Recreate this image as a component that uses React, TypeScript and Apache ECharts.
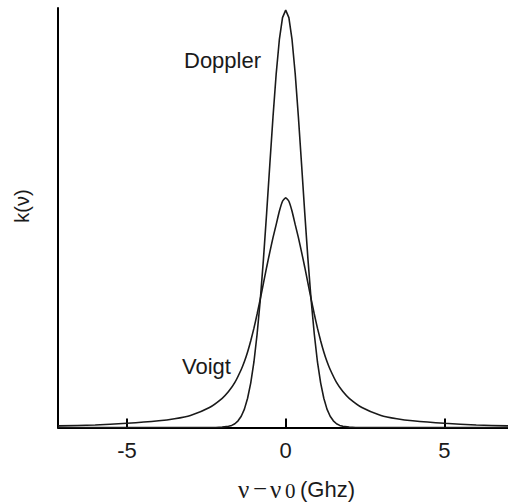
import React, { useEffect, useRef } from "react";
import * as echarts from "echarts";

// Frequency offsets (GHz) and line-shape values (Doppler peak = 1)
const dopplerX = [-7.17, -2.2, -2.0, -1.8, -1.7, -1.6, -1.5, -1.4, -1.3, -1.2, -1.1, -1.0, -0.9, -0.8, -0.7, -0.6, -0.5, -0.4, -0.3, -0.2, -0.1, 0, 0.1, 0.2, 0.3, 0.4, 0.5, 0.6, 0.7, 0.8, 0.9, 1.0, 1.1, 1.2, 1.3, 1.4, 1.5, 1.6, 1.7, 1.8, 2.0, 2.2, 7.0];
const dopplerY = [0, 0, 0.001, 0.003, 0.005, 0.009, 0.016, 0.027, 0.044, 0.07, 0.107, 0.157, 0.224, 0.306, 0.404, 0.514, 0.63, 0.744, 0.847, 0.929, 0.982, 1.0, 0.982, 0.929, 0.847, 0.744, 0.63, 0.514, 0.404, 0.306, 0.224, 0.157, 0.107, 0.07, 0.044, 0.027, 0.016, 0.009, 0.005, 0.003, 0.001, 0, 0];

const voigtX = [-7.17, -6.0, -5.0, -4.0, -3.5, -3.0, -2.4, -2.0, -1.8, -1.6, -1.4, -1.3, -1.2, -1.1, -1.0, -0.9, -0.8, -0.7, -0.6, -0.5, -0.4, -0.3, -0.2, -0.1, 0, 0.1, 0.2, 0.3, 0.4, 0.5, 0.6, 0.7, 0.8, 0.9, 1.0, 1.1, 1.2, 1.3, 1.4, 1.6, 1.8, 2.0, 2.4, 3.0, 3.5, 4.0, 5.0, 6.0, 7.0];
const voigtY = [0.004, 0.006, 0.01, 0.016, 0.021, 0.029, 0.048, 0.07, 0.086, 0.108, 0.139, 0.158, 0.181, 0.208, 0.238, 0.272, 0.308, 0.346, 0.384, 0.42, 0.455, 0.486, 0.518, 0.542, 0.55, 0.542, 0.518, 0.486, 0.455, 0.42, 0.384, 0.346, 0.308, 0.272, 0.238, 0.208, 0.181, 0.158, 0.139, 0.108, 0.086, 0.07, 0.048, 0.029, 0.021, 0.016, 0.01, 0.006, 0.004];

const tickValues = [-5, 0, 5];
const curveLabels = ["Doppler", "Voigt"];
const yAxisTitle = "k(ν)";
const xAxisTitleParts = ["ν", "−", "ν", "0", "(Ghz)"];

const SANS = "'Liberation Sans', Arial, sans-serif";
const SERIF = "'Liberation Serif', 'Times New Roman', serif";
const INK = "#1a1a1a";

export default function App() {
  const ref = useRef<HTMLDivElement>(null);
  useEffect(() => {
    if (!ref.current) return;
    const chart = echarts.init(ref.current, undefined, { renderer: "svg" });
    const pairs = (xs: number[], ys: number[]) => xs.map((x, i) => [x, ys[i]]);
    chart.setOption({
      animation: false,
      backgroundColor: "#ffffff",
      grid: { left: 58, right: 0, top: 8, bottom: 76.5 },
      xAxis: {
        type: "value",
        min: -7.17,
        max: 7.0,
        axisLine: { show: true, onZero: false, lineStyle: { color: "#000", width: 2 } },
        axisTick: { show: true, inside: true, length: 9, customValues: tickValues, lineStyle: { color: "#000", width: 2 } },
        axisLabel: { show: true, customValues: tickValues, fontSize: 22, color: INK, fontFamily: SANS, margin: 12 },
        splitLine: { show: false },
      },
      yAxis: {
        type: "value",
        min: 0,
        max: 1.005,
        axisLine: { show: true, onZero: false, lineStyle: { color: "#000", width: 2 } },
        axisTick: { show: false },
        axisLabel: { show: false },
        splitLine: { show: false },
      },
      series: [
        {
          name: curveLabels[0],
          type: "line",
          data: pairs(dopplerX, dopplerY),
          showSymbol: false,
          smooth: false,
          lineStyle: { color: INK, width: 1.6 },
        },
        {
          name: curveLabels[1],
          type: "line",
          data: pairs(voigtX, voigtY),
          showSymbol: false,
          smooth: 0.2,
          lineStyle: { color: INK, width: 1.6 },
        },
      ],
      graphic: [
        { type: "text", x: 184, y: 60.5, style: { text: curveLabels[0], fontSize: 22, fontFamily: SANS, fill: INK, align: "left", verticalAlign: "middle" } },
        { type: "text", x: 182, y: 366, style: { text: curveLabels[1], fontSize: 22, fontFamily: SANS, fill: INK, align: "left", verticalAlign: "middle" } },
        { type: "text", x: 21.5, y: 206, rotation: Math.PI / 2, style: { text: yAxisTitle, fontSize: 20, fontFamily: SANS, fill: INK, align: "center", verticalAlign: "middle" } },
        { type: "text", x: 238, y: 489, style: { text: xAxisTitleParts[0], fontSize: 25, fontFamily: SERIF, fill: INK, align: "left", verticalAlign: "middle" } },
        { type: "text", x: 260, y: 488, style: { text: xAxisTitleParts[1], fontSize: 25, fontFamily: SERIF, fill: INK, align: "center", verticalAlign: "middle" } },
        { type: "text", x: 270, y: 489, style: { text: xAxisTitleParts[2], fontSize: 25, fontFamily: SERIF, fill: INK, align: "left", verticalAlign: "middle" } },
        { type: "text", x: 285, y: 491, style: { text: xAxisTitleParts[3], fontSize: 21, fontFamily: SERIF, fill: INK, align: "left", verticalAlign: "middle" } },
        { type: "text", x: 300, y: 489.5, style: { text: xAxisTitleParts[4], fontSize: 22, fontFamily: SANS, fill: INK, align: "left", verticalAlign: "middle" } },
      ],
    });
    return () => chart.dispose();
  }, []);
  return <div ref={ref} style={{ width: 508, height: 504, position: "absolute", left: 0, top: 0 }} />;
}
